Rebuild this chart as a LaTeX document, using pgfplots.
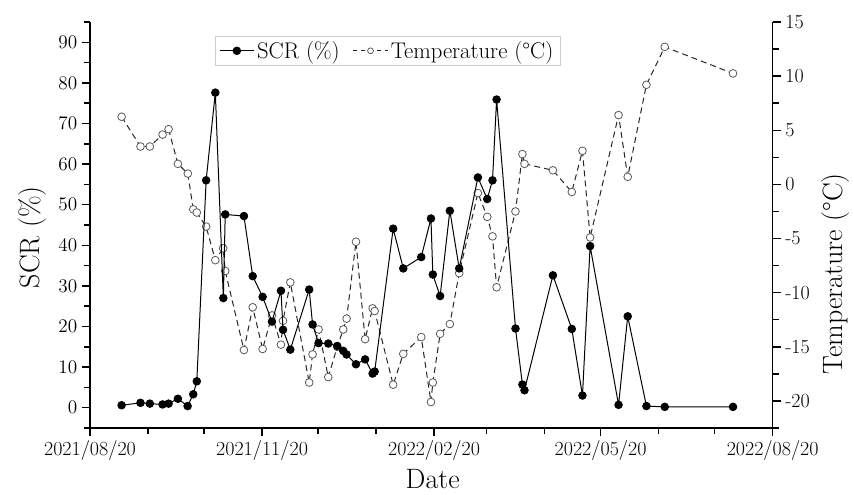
\documentclass[border=0pt]{standalone}
\usepackage{fontspec}
\usepackage{pgfplots}
\pgfplotsset{compat=1.18}
\begin{document}
\begin{tikzpicture}
\pgfplotsset{
  common/.style={
    scale only axis, width=512pt, height=304.5pt,
    xmin=0, xmax=365, at={(0,0)}, anchor=south west,
    tick label style={font=\fontsize{15}{17}\selectfont},
    label style={font=\fontsize{21}{24}\selectfont},
    axis line style={line width=1.1pt},
    every tick/.style={black, line width=1.1pt},
    tick align=outside, major tick length=6pt, minor tick length=4.5pt,
  }
}
% Temperature axis (right)
\begin{axis}[common,
  axis x line=none, axis y line*=right,
  ymin=-22.5, ymax=15,
  ytick={-20,-15,-10,-5,0,5,10,15},
  yticklabels={-20,-15,-10,-5,0,5,10,15},
  minor ytick={-22.5,-17.5,-12.5,-7.5,-2.5,2.5,7.5,12.5},
  ylabel={Temperature (°C)},
  ylabel style={at={(axis description cs:1.092,0.38)}, anchor=center},
]
\addplot[black!85, line width=0.75pt, dash pattern=on 4.5pt off 3pt,
  mark=*, mark size=2.9pt, mark options={solid, draw=black!65, fill=white, line width=0.6pt}]
  table {
x y
16.9 6.25
27.0 3.5
32.0 3.5
38.8 4.6
42.0 5.1
47.0 1.9
52.3 1.0
55.2 -2.3
57.1 -2.6
62.1 -3.9
67.0 -7.0
71.2 -5.9
72.3 -8.0
82.3 -15.3
87.0 -11.35
92.3 -15.2
97.3 -12.1
102.1 -14.8
103.2 -12.6
107.1 -9.05
117.2 -18.3
119.0 -15.7
122.2 -13.4
127.4 -17.8
132.2 -15.0
135.4 -13.4
137.2 -12.4
142.2 -5.3
147.1 -14.3
151.1 -11.45
152.2 -11.7
162.1 -18.5
167.5 -15.65
177.1 -14.1
182.3 -20.1
183.3 -18.3
187.2 -13.8
192.4 -12.9
197.4 -8.2
207.4 -0.8
212.4 -3.0
215.2 -4.8
217.4 -9.5
227.5 -2.5
231.2 2.8
232.3 1.9
247.5 1.3
257.6 -0.7
263.3 3.1
267.4 -4.9
282.6 6.4
287.5 0.7
297.5 9.2
307.3 12.7
343.8 10.25
};
\end{axis}
% SCR axis (left)
\begin{axis}[common,
  axis x line*=bottom, axis y line*=left,
  ymin=-5, ymax=95,
  ytick={0,10,...,90},
  minor ytick={-5,5,...,95},
  xtick={0,92,184,273,365},
  xticklabels={2021/08/20,2021/11/20,2022/02/20,2022/05/20,2022/08/20},
  minor xtick={31,61,122,153,212,243,304,334},
  xlabel={Date},
  ylabel={SCR (\%)},
  xlabel style={at={(axis description cs:0.502,-0.125)}, anchor=center},
  ylabel style={at={(axis description cs:-0.0835,0.47)}, anchor=center},
  legend image code/.code={\draw[mark repeat=2,mark phase=2,#1] plot coordinates {(0cm,0cm) (0.45cm,0cm) (0.9cm,0cm)};},
  legend columns=2,
  legend style={at={(axis description cs:0.436,0.929)}, anchor=center,
    draw=black!20, font=\fontsize{17}{20}\selectfont,
    /tikz/every even column/.append style={column sep=8pt}},
]
\addplot[black, line width=0.75pt, mark=*, mark size=2.8pt, mark options={solid, fill=black}]
  table {
x y
16.9 0.6
27.0 1.2
32.0 1.0
38.8 0.8
42.0 1.0
47.0 2.2
52.2 0.4
55.2 3.3
57.1 6.5
62.1 56.0
67.0 77.6
71.3 27.0
72.3 47.6
82.3 47.2
87.0 32.4
92.3 27.3
97.3 21.2
102.1 28.8
103.2 19.2
107.1 14.3
117.2 29.1
119.0 20.5
122.2 15.9
127.4 15.8
132.2 15.2
135.4 14.0
137.2 13.1
142.2 10.7
147.1 11.9
151.1 8.4
152.2 8.9
162.1 44.1
167.5 34.3
177.1 37.1
182.3 46.6
183.3 32.8
187.2 27.5
192.4 48.5
197.4 34.3
207.4 56.7
212.4 51.4
215.2 56.0
217.4 75.9
227.5 19.5
231.2 5.7
232.3 4.3
247.5 32.6
257.6 19.4
263.3 3.0
267.4 39.8
282.6 0.7
287.5 22.5
297.5 0.4
307.3 0.2
343.8 0.2
};
\addlegendentry{SCR (\%)}
\addlegendimage{black!85, line width=0.75pt, dash pattern=on 3pt off 3pt, mark=*, mark size=2.2pt, mark options={solid, draw=black!65, fill=white, line width=0.6pt}}
\addlegendentry{Temperature (°C)}
\end{axis}
\pgfresetboundingbox
\path[use as bounding box] (-67.5pt,-50.25pt) rectangle (573pt,321pt);
\end{tikzpicture}
\end{document}
